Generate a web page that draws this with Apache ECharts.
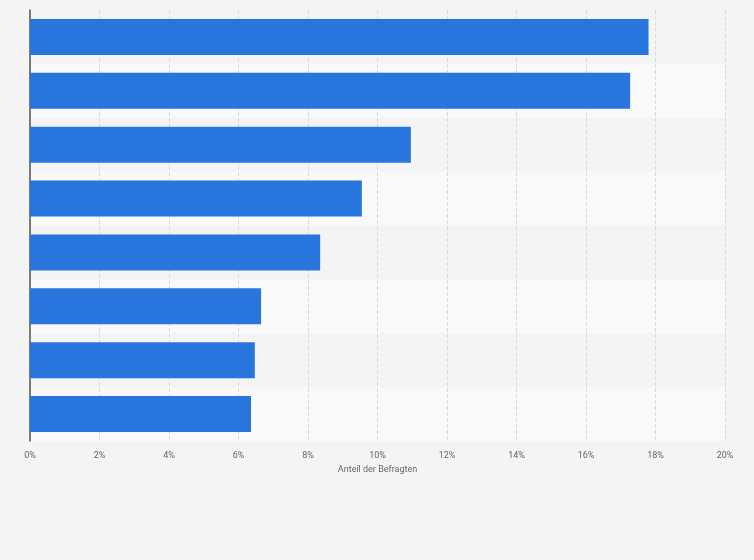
<!DOCTYPE html><html><head><meta charset="utf-8"><script src="https://cdn.jsdelivr.net/npm/echarts@6/dist/echarts.min.js"></script></head><body style="margin:0;background:#f4f4f4"><div id="c" style="width:754px;height:560px"></div><script>
const categories=["Kategorie 1","Kategorie 2","Kategorie 3","Kategorie 4","Kategorie 5","Kategorie 6","Kategorie 7","Kategorie 8"];
const values=[17.8,17.27,10.96,9.55,8.35,6.65,6.47,6.36];
const xTicks=[0,2,4,6,8,10,12,14,16,18,20];
const ch=echarts.init(document.getElementById('c'));
ch.setOption({backgroundColor:'#f4f4f4',animation:false,
grid:{left:30,right:29,top:10,bottom:119},
xAxis:{type:'value',min:0,max:20,interval:2,name:'Anteil der Befragten',nameLocation:'middle',nameGap:20,
nameTextStyle:{color:'#666',fontSize:9,fontFamily:'Roboto'},
axisLabel:{color:'#666',fontSize:9,fontFamily:'Roboto',margin:10,formatter:v=>xTicks.includes(v)?v+'%':''},
axisLine:{show:false},axisTick:{show:false},
splitLine:{lineStyle:{color:'#dcdcdc',type:'dashed'}}},
yAxis:{type:'category',data:categories,inverse:true,axisLabel:{show:false},axisTick:{show:false},
axisLine:{lineStyle:{color:'#555',width:1.5}},
splitArea:{show:true,areaStyle:{color:['#f4f4f4','#f9f9f9']}}},
series:[{type:'bar',data:values,barCategoryGap:'33%',itemStyle:{color:'#2876dd'}}]});
</script></body></html>
